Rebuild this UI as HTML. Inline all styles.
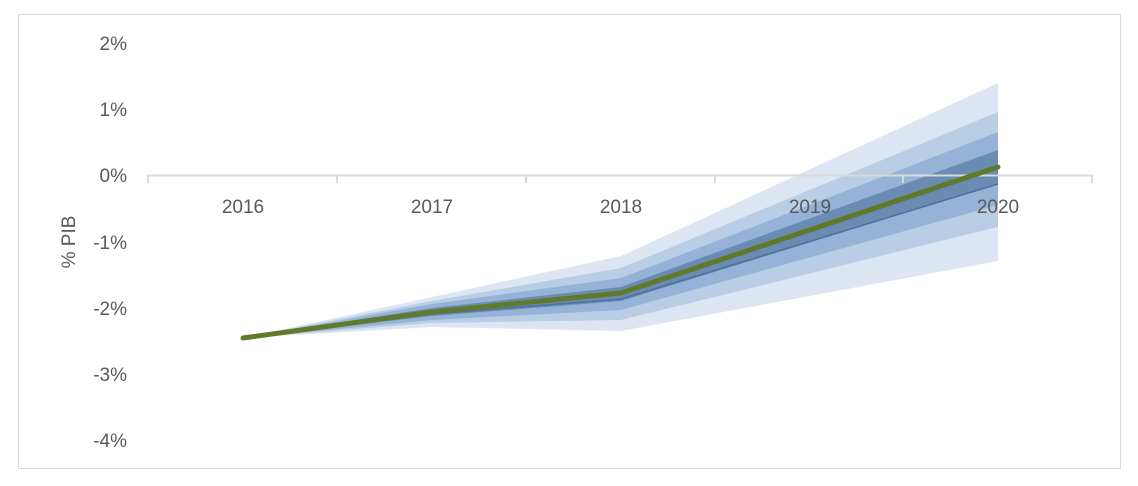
<!DOCTYPE html>
<html><head><style>
body{margin:0;background:#fff;}
svg{display:block;font-family:"Liberation Sans",sans-serif;}
</style></head><body>
<svg width="1138" height="486" viewBox="0 0 1138 486">
<rect x="18.5" y="14.5" width="1102" height="454" fill="#fff" stroke="#d9d9d9"/>
<!-- fan bands: outer to inner -->
<polygon points="243,338 432,297 621,256 998,83 998,261 621,331 432,327" fill="#dce6f2"/>
<polygon points="243,338 432,301 621,268 998,112 998,227 621,320 432,323" fill="#b9cde5"/>
<polygon points="243,338 432,304 621,278 998,132 998,205 621,310 432,320" fill="#95b3d7"/>
<polygon points="243,338 432,308 621,287 998,150 998,184 621,301 432,316" fill="#6a8bb2"/>
<polyline points="243,338 432,314 621,299 998,184" fill="none" stroke="#4f6f9f" stroke-width="1.5"/>
<!-- axis -->
<line x1="148" y1="175.5" x2="1092" y2="175.5" stroke="#d9d9d9" stroke-width="2"/>
<g stroke="#d9d9d9" stroke-width="2">
<line x1="148" y1="175" x2="148" y2="183"/><line x1="337" y1="175" x2="337" y2="183"/>
<line x1="526" y1="175" x2="526" y2="183"/><line x1="715" y1="175" x2="715" y2="183"/>
<line x1="903" y1="175" x2="903" y2="183"/><line x1="1092" y1="175" x2="1092" y2="183"/>
</g>
<g font-size="19" fill="#595959" text-anchor="middle">
<text x="243" y="213">2016</text><text x="432" y="213">2017</text><text x="621" y="213">2018</text>
<text x="810" y="213">2019</text><text x="998" y="213">2020</text>
</g>
<g font-size="19" fill="#595959" text-anchor="end">
<text x="127" y="50">2%</text><text x="127" y="116">1%</text><text x="127" y="182">0%</text>
<text x="127" y="249">-1%</text><text x="127" y="315">-2%</text><text x="127" y="381">-3%</text>
<text x="127" y="447">-4%</text>
</g>
<text transform="translate(75,242) rotate(-90)" font-size="19" fill="#595959" text-anchor="middle">% PIB</text>
<polyline points="243,338 432,312 621,293 998,167" fill="none" stroke="#607a2c" stroke-width="5" stroke-linejoin="round" stroke-linecap="round"/>
</svg>
</body></html>
